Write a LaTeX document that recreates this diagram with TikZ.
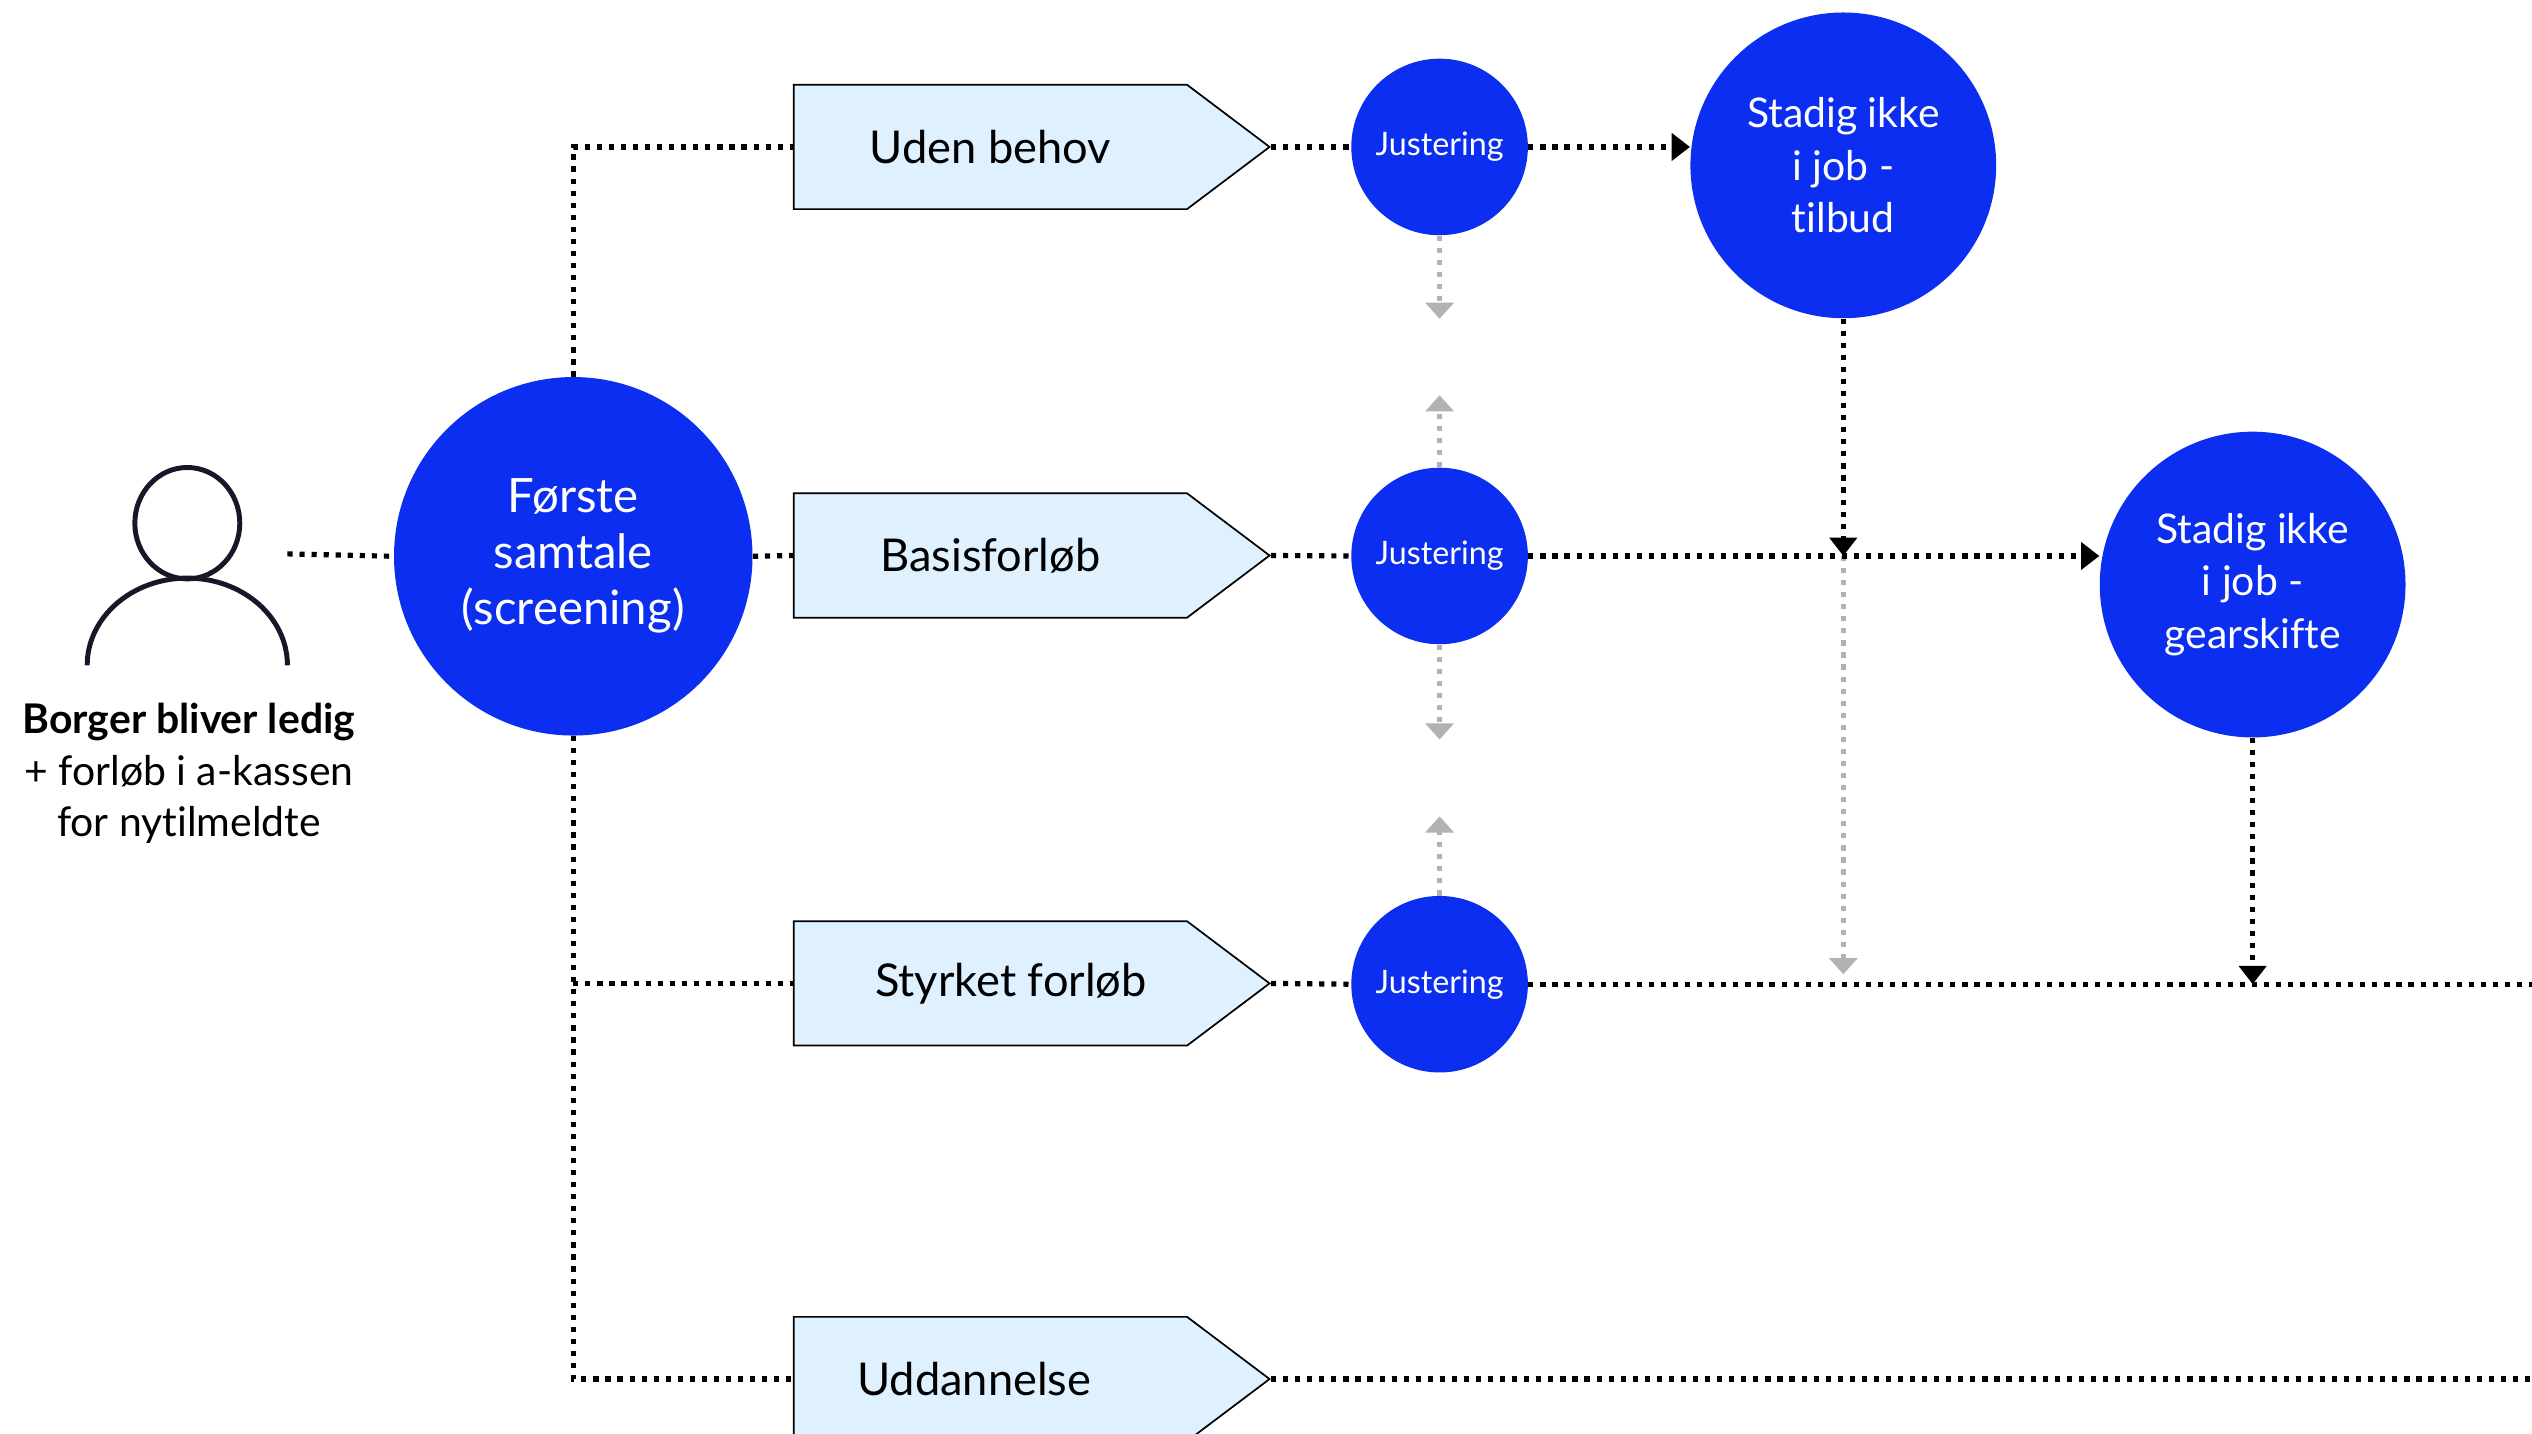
\documentclass[tikz,border=0pt]{standalone}
\usepackage{fontspec}
\setmainfont{Lato}[Ligatures=NoCommon]
\usepackage{tikz}
\usetikzlibrary{arrows.meta,shapes.symbols,calc,positioning}
\definecolor{fvblue}{RGB}{11,46,240}
\definecolor{fvlight}{RGB}{223,240,254}
\definecolor{fvgrey}{RGB}{178,178,178}
\definecolor{fvnavy}{RGB}{22,24,42}
\tikzset{
dotline/.style={line width=2.4pt, dash pattern=on 2.4pt off 3.2pt}, % the black dotted connectors
tip/.style={-{Triangle[length=8.5pt,width=12.5pt]}},
greyline/.style={dotline, fvgrey, -{Triangle[length=7.5pt,width=13pt]}},
dot/.style={circle, fill=fvblue, text=white, inner sep=0pt, align=center},
stepbox/.style={signal, signal to=east, signal pointer angle=74, draw, fill=fvlight,
  line width=0.8pt, minimum height=57.75pt, minimum width=221pt, inner sep=0pt,
  font=\fontsize{21}{24}\selectfont},
}

\begin{document}
\begin{tikzpicture}[x=0.75pt,y=0.75pt,yscale=-1,xscale=1]
\useasboundingbox (0,0) rectangle (1568,888);
\coordinate (rim) at (1568,0);
%Person
\draw [fvnavy, line width=2.3pt] (116,324) ellipse [x radius=32.5, y radius=34.5];
\draw [fvnavy, line width=2.3pt] (54,412) arc [start angle=180, end angle=360, x radius=62, y radius=54];
\coordinate (pr) at (178,343);
\node [align=center, font=\fontsize{19}{24}\selectfont] (pl) at (117,479) {\textbf{Borger bliver ledig}\\+ forløb i a-kassen\\for nytilmeldte};
%Circles
\node [dot, minimum size=166.5pt, font=\fontsize{22}{26}\selectfont] (fs) at (355,344.5) {Første\\samtale\\(screening)};
\node [dot, minimum size=82pt, font=\fontsize{15}{18}\selectfont] (j1) at (891.5,91) {Justering};
\node [dot, minimum size=82pt, font=\fontsize{15}{18}\selectfont] (j2) at (891.5,344.3) {Justering};
\node [dot, minimum size=82pt, font=\fontsize{15}{18}\selectfont] (j3) at (891.5,609.5) {Justering};
\node [dot, minimum size=142pt, font=\fontsize{19}{24.4}\selectfont] (st) at (1141.5,102.4) {Stadig ikke\\i job -\\tilbud};
\node [dot, minimum size=142pt, font=\fontsize{19}{24.4}\selectfont] (sg) at (1395,362) {Stadig ikke\\i job -\\gearskifte};
%Boxes
\node [stepbox, anchor=west] (ub) at (491,91) {Uden behov};
\node [stepbox, anchor=west] (bf) at (491,344) {Basisforløb};
\node [stepbox, anchor=west] (sf) at (491,609) {\hspace*{19pt}Styrket forløb};
\node [stepbox, anchor=west] (ud) at (491,854) {Uddannelse\hspace*{15pt}};
%Straight Lines
\draw [dotline] (pr) -- (fs.west);
\draw [dotline] (fs.north) -- (fs.north |- ub.west) -- (ub.west);
\draw [dotline] (fs.east) -- (bf.west);
\draw [dotline] (fs.south) -- (fs.south |- ud.west) -- (ud.west);
\draw [dotline] (fs.south |- sf.west) -- (sf.west);
\draw [dotline] (ub.east) -- (j1.west);
\draw [dotline] (bf.east) -- (j2.west);
\draw [dotline] (sf.east) -- (j3.west);
\draw [dotline] (ud.east) -- (ud.east -| rim);
\draw [dotline, tip] (j1.east) -- (j1.east -| st.west);
\coordinate (cx) at (st.south |- j2.east);
\draw [greyline] (cx) -- ++(0,259);
\draw [dotline, tip] (st.south) -- (cx);
\draw [dotline, tip] (j2.east) -- (j2.east -| sg.west);
\draw [dotline, tip] (sg.south) -- (sg.south |- j3.east);
\draw [dotline] (j3.east) -- (j3.east -| rim);
%Grey arrows
\draw [greyline] (j1.south) -- ++(0,51.5);
\draw [greyline] (j2.north) -- ++(0,-44.6);
\draw [greyline] (j2.south) -- ++(0,58.7);
\draw [greyline] (j3.north) -- ++(0,-49);
\end{tikzpicture}
\end{document}
